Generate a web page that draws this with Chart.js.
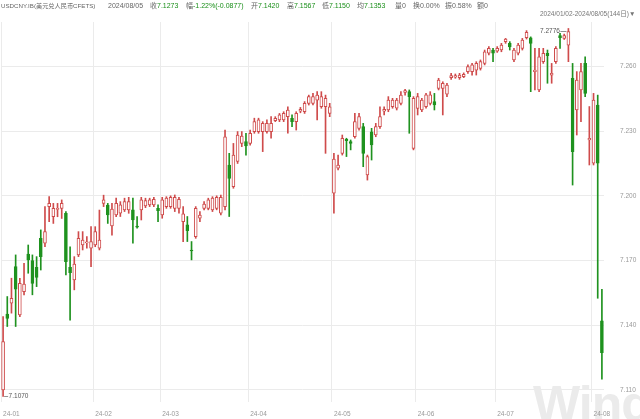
<!DOCTYPE html>
<html>
<head>
<meta charset="utf-8">
<script src="https://cdn.jsdelivr.net/npm/chart.js@4.4.1/dist/chart.umd.min.js"></script>
<style>
html, body { margin: 0; padding: 0; background: #fff; }
body { width: 640px; height: 419px; overflow: hidden; position: relative; font-family: "Liberation Sans", "Noto Sans CJK SC", sans-serif; }
canvas { position: absolute; left: 0; top: 0; }
.hd { position: absolute; top: 1px; font-size: 7px; line-height: 10px; color: #666; white-space: nowrap; }
.g { color: #1a8f1a; }
#range { position: absolute; left: 540px; top: 9px; font-size: 6.5px; line-height: 10px; color: #777; white-space: nowrap; }
#wm { position: absolute; left: 533px; top: 375px; font: bold 50px "Liberation Sans", sans-serif; color: #ebebeb; letter-spacing: -1px; }
</style>
</head>
<body>
<div id="wm">Wind</div>
<canvas id="myChart" width="640" height="419"></canvas>
<div class="hd" style="left:1px;font-size:6.2px">USDCNY.IB(美元兑人民币CFETS)</div>
<div class="hd" style="left:108px">2024/08/05</div>
<div class="hd" style="left:150px">收<span class="g">7.1273</span></div>
<div class="hd" style="left:186px">幅<span class="g">-1.22%(-0.0877)</span></div>
<div class="hd" style="left:251px">开<span class="g">7.1420</span></div>
<div class="hd" style="left:287px">高<span class="g">7.1567</span></div>
<div class="hd" style="left:322px">低<span class="g">7.1150</span></div>
<div class="hd" style="left:357px">均<span class="g">7.1353</span></div>
<div class="hd" style="left:395px">量0</div>
<div class="hd" style="left:413px">换0.00%</div>
<div class="hd" style="left:445px">振0.58%</div>
<div class="hd" style="left:477px">额0</div>
<div id="range">2024/01/02-2024/08/05(144日)▼</div>
<script>
// daily OHLC, 2024-01-02 .. 2024-08-05 (144 trading days)
var open = [
  7.1100, 7.1452, 7.1502, 7.1672, 7.1448, 7.1556, 7.1730, 7.1700, 7.1669, 7.1803,
  7.1780, 7.1950, 7.1903, 7.1937, 7.1942, 7.1919, 7.1669, 7.1610, 7.1726, 7.1772,
  7.1782, 7.1757, 7.1772, 7.1757, 7.1965, 7.1957, 7.1860, 7.1912, 7.1919, 7.1935,
  7.1935, 7.1935, 7.1860, 7.1935, 7.1953, 7.1958, 7.1958, 7.1942, 7.1911, 7.1950,
  7.1950, 7.1942, 7.1942, 7.1880, 7.1865, 7.1748, 7.1811, 7.1896, 7.1942, 7.1942,
  7.1935, 7.1942, 7.1919, 7.1950, 7.2143, 7.2043, 7.2159, 7.2243, 7.2251, 7.2243,
  7.2298, 7.2298, 7.2297, 7.2297, 7.2297, 7.2348, 7.2352, 7.2352, 7.2367, 7.2359,
  7.2344, 7.2392, 7.2390, 7.2429, 7.2429, 7.2444, 7.2413, 7.2413, 7.2382, 7.2012,
  7.2128, 7.2197, 7.2262, 7.2251, 7.2274, 7.2313, 7.2321, 7.2097, 7.2297, 7.2282,
  7.2321, 7.2392, 7.2398, 7.2413, 7.2406, 7.2429, 7.2479, 7.2483, 7.2220, 7.2405,
  7.2398, 7.2413, 7.2429, 7.2437, 7.2498, 7.2498, 7.2471, 7.2548, 7.2550, 7.2548,
  7.2553, 7.2576, 7.2576, 7.2583, 7.2591, 7.2614, 7.2661, 7.2676, 7.2671, 7.2676,
  7.2715, 7.2707, 7.2630, 7.2661, 7.2684, 7.2733, 7.2733, 7.2576, 7.2491, 7.2622,
  7.2661, 7.2560, 7.2622, 7.2743, 7.2730, 7.2699, 7.2545, 7.2398, 7.2491, 7.2614,
  7.2259, 7.2151, 7.2421, 7.1420
];
var high = [
  7.1440, 7.1533, 7.1618, 7.1726, 7.1618, 7.1687, 7.1772, 7.1726, 7.1718, 7.1842,
  7.1950, 7.1996, 7.1965, 7.1965, 7.1981, 7.1927, 7.1764, 7.1718, 7.1834, 7.1834,
  7.1811, 7.1857, 7.1857, 7.1934, 7.2003, 7.1965, 7.1965, 7.1990, 7.1973, 7.1989,
  7.1993, 7.1989, 7.1904, 7.1993, 7.1989, 7.1989, 7.1993, 7.1958, 7.1993, 7.1996,
  7.2000, 7.2004, 7.1993, 7.1950, 7.1904, 7.1788, 7.1950, 7.1927, 7.1973, 7.1989,
  7.1996, 7.2000, 7.2004, 7.2305, 7.2197, 7.2243, 7.2298, 7.2298, 7.2290, 7.2305,
  7.2360, 7.2360, 7.2344, 7.2352, 7.2367, 7.2367, 7.2382, 7.2390, 7.2413, 7.2375,
  7.2390, 7.2410, 7.2437, 7.2467, 7.2475, 7.2483, 7.2483, 7.2467, 7.2429, 7.2197,
  7.2189, 7.2282, 7.2267, 7.2259, 7.2382, 7.2382, 7.2336, 7.2189, 7.2313, 7.2336,
  7.2413, 7.2413, 7.2460, 7.2452, 7.2452, 7.2483, 7.2494, 7.2491, 7.2460, 7.2475,
  7.2452, 7.2475, 7.2483, 7.2475, 7.2545, 7.2529, 7.2522, 7.2568, 7.2565, 7.2568,
  7.2570, 7.2607, 7.2614, 7.2622, 7.2630, 7.2676, 7.2692, 7.2684, 7.2692, 7.2707,
  7.2730, 7.2715, 7.2684, 7.2707, 7.2730, 7.2766, 7.2737, 7.2684, 7.2684, 7.2684,
  7.2676, 7.2614, 7.2692, 7.2753, 7.2750, 7.2776, 7.2614, 7.2576, 7.2614, 7.2645,
  7.2414, 7.2475, 7.2467, 7.1567
];
var low = [
  7.1070, 7.1394, 7.1456, 7.1394, 7.1440, 7.1540, 7.1641, 7.1541, 7.1579, 7.1656,
  7.1764, 7.1880, 7.1872, 7.1903, 7.1895, 7.1633, 7.1424, 7.1564, 7.1718, 7.1749,
  7.1757, 7.1672, 7.1764, 7.1749, 7.1950, 7.1872, 7.1818, 7.1903, 7.1904, 7.1927,
  7.1919, 7.1780, 7.1850, 7.1888, 7.1945, 7.1950, 7.1950, 7.1880, 7.1896, 7.1942,
  7.1942, 7.1927, 7.1919, 7.1788, 7.1788, 7.1703, 7.1803, 7.1880, 7.1935, 7.1935,
  7.1927, 7.1935, 7.1911, 7.1935, 7.1904, 7.2035, 7.2150, 7.2228, 7.2189, 7.2235,
  7.2290, 7.2290, 7.2205, 7.2290, 7.2267, 7.2344, 7.2344, 7.2344, 7.2290, 7.2321,
  7.2305, 7.2385, 7.2382, 7.2421, 7.2421, 7.2352, 7.2406, 7.2197, 7.2367, 7.1919,
  7.2120, 7.2189, 7.2182, 7.2213, 7.2267, 7.2305, 7.2135, 7.2073, 7.2166, 7.2274,
  7.2313, 7.2375, 7.2390, 7.2406, 7.2398, 7.2421, 7.2467, 7.2290, 7.2213, 7.2375,
  7.2390, 7.2406, 7.2421, 7.2398, 7.2491, 7.2375, 7.2460, 7.2540, 7.2545, 7.2540,
  7.2548, 7.2568, 7.2560, 7.2560, 7.2583, 7.2607, 7.2653, 7.2622, 7.2665, 7.2668,
  7.2707, 7.2676, 7.2622, 7.2653, 7.2676, 7.2727, 7.2483, 7.2491, 7.2483, 7.2614,
  7.2522, 7.2522, 7.2614, 7.2684, 7.2725, 7.2622, 7.2050, 7.2282, 7.2344, 7.2460,
  7.2143, 7.2143, 7.1525, 7.1150
];
var close = [
  7.1324, 7.1432, 7.1525, 7.1567, 7.1594, 7.1591, 7.1703, 7.1594, 7.1622, 7.1718,
  7.1834, 7.1965, 7.1942, 7.1940, 7.1965, 7.1695, 7.1644, 7.1684, 7.1803, 7.1795,
  7.1785, 7.1788, 7.1834, 7.1795, 7.1981, 7.1911, 7.1938, 7.1965, 7.1958, 7.1973,
  7.1973, 7.1888, 7.1855, 7.1981, 7.1978, 7.1981, 7.1984, 7.1931, 7.1981, 7.1989,
  7.1993, 7.1993, 7.1984, 7.1916, 7.1839, 7.1744, 7.1942, 7.1911, 7.1962, 7.1981,
  7.1989, 7.1993, 7.1993, 7.2274, 7.2081, 7.2189, 7.2282, 7.2277, 7.2231, 7.2290,
  7.2344, 7.2352, 7.2336, 7.2336, 7.2336, 7.2359, 7.2375, 7.2382, 7.2398, 7.2344,
  7.2382, 7.2401, 7.2429, 7.2460, 7.2460, 7.2467, 7.2460, 7.2452, 7.2413, 7.2170,
  7.2143, 7.2267, 7.2256, 7.2243, 7.2344, 7.2367, 7.2197, 7.2182, 7.2236, 7.2321,
  7.2367, 7.2401, 7.2444, 7.2444, 7.2444, 7.2467, 7.2488, 7.2460, 7.2452, 7.2460,
  7.2444, 7.2468, 7.2468, 7.2421, 7.2537, 7.2522, 7.2514, 7.2557, 7.2558, 7.2560,
  7.2563, 7.2599, 7.2607, 7.2614, 7.2622, 7.2668, 7.2684, 7.2661, 7.2684, 7.2699,
  7.2727, 7.2690, 7.2676, 7.2699, 7.2722, 7.2758, 7.2707, 7.2583, 7.2645, 7.2661,
  7.2650, 7.2568, 7.2684, 7.2733, 7.2743, 7.2761, 7.2205, 7.2537, 7.2576, 7.2475,
  7.2267, 7.2444, 7.2151, 7.1273
];
// first trading day of each month and its axis label
var monthStarts = [0, 22, 38, 59, 79, 99, 118, 141];
var monthLabels = ['24-01', '24-02', '24-03', '24-04', '24-05', '24-06', '24-07', '24-08'];
var yTicks = [7.110, 7.140, 7.170, 7.200, 7.230, 7.260];

var upColor = '#cf4b4b';
var downColor = '#1f921f';
var days = open.map((v, i) => i);
var isUp = open.map((o, i) => close[i] >= o);
var lineColors = isUp.map(u => u ? upColor : downColor);
var fillColors = isUp.map(u => u ? '#ffffff' : downColor);

const extremes = {
    id: 'extremes',
    afterDatasetsDraw(chart) {
        const ctx = chart.ctx;
        const x = chart.scales.x, y = chart.scales.y;
        const hi = high.indexOf(Math.max(...high));
        const lo = low.indexOf(Math.min(...low));
        ctx.save();
        ctx.font = '6.5px "Liberation Sans"';
        ctx.fillStyle = '#555';
        ctx.strokeStyle = '#777';
        ctx.lineWidth = 0.8;
        ctx.textBaseline = 'middle';
        // highest high, label on the left
        let px = x.getPixelForValue(hi), py = Math.round(y.getPixelForValue(high[hi])) + 3.5;
        ctx.beginPath(); ctx.moveTo(px - 2, py); ctx.lineTo(px - 8, py); ctx.stroke();
        ctx.textAlign = 'right';
        ctx.fillText(high[hi].toFixed(4), px - 8.5, py);
        // lowest low, label on the right
        px = x.getPixelForValue(lo); py = Math.round(y.getPixelForValue(low[lo])) + 0.5;
        ctx.beginPath(); ctx.moveTo(px + 1, py); ctx.lineTo(px + 5, py); ctx.stroke();
        ctx.textAlign = 'left';
        ctx.fillText(low[lo].toFixed(4), px + 5.5, py);
        ctx.restore();
    }
};

var ctx = document.getElementById('myChart');
var chart = new Chart(ctx, {
    type: 'bar',
    data: {
        labels: days,
        datasets: [
            {
                label: 'body',
                data: open.map((o, i) => [o, close[i]]),
                backgroundColor: fillColors,
                borderColor: lineColors,
                borderWidth: 1,
                borderSkipped: false,
                barThickness: 3,
                minBarLength: 1,
                grouped: false
            },
            {
                label: 'wick',
                data: low.map((l, i) => [l, high[i]]),
                backgroundColor: lineColors,
                borderWidth: 0,
                barThickness: 1,
                grouped: false
            }
        ]
    },
    options: {
        responsive: false,
        animation: false,
        devicePixelRatio: 1,
        layout: { padding: { top: 22, left: 1, right: 0, bottom: 0 } },
        plugins: {
            legend: { display: false },
            tooltip: { enabled: false }
        },
        scales: {
            x: {
                offset: true,
                border: { display: false },
                grid: {
                    offset: true,
                    drawTicks: false,
                    lineWidth: 1,
                    color: c => monthStarts.includes(c.index) ? '#ebebeb' : 'transparent'
                },
                ticks: {
                    autoSkip: false,
                    maxRotation: 0,
                    minRotation: 0,
                    align: 'start',
                    padding: 8,
                    color: '#999',
                    font: { family: 'Liberation Sans', size: 6.5 },
                    callback: (v, i) => {
                        const k = monthStarts.indexOf(i);
                        return k >= 0 ? monthLabels[k] : '';
                    }
                },
                afterFit: s => { s.height = 17; s.paddingLeft = 0; s.paddingRight = 0; }
            },
            y: {
                position: 'right',
                min: 7.1044,
                max: 7.2806,
                border: { display: false },
                grid: { drawTicks: false, color: '#ebebeb' },
                ticks: {
                    padding: 16,
                    color: '#999',
                    font: { family: 'Liberation Sans', size: 6.5 },
                    callback: v => v.toFixed(3)
                },
                afterBuildTicks: s => { s.ticks = yTicks.map(v => ({ value: v })); },
                afterFit: s => { s.width = 36; s.paddingTop = 0; s.paddingBottom = 0; }
            }
        }
    },
    plugins: [extremes]
});
</script>
</body>
</html>
